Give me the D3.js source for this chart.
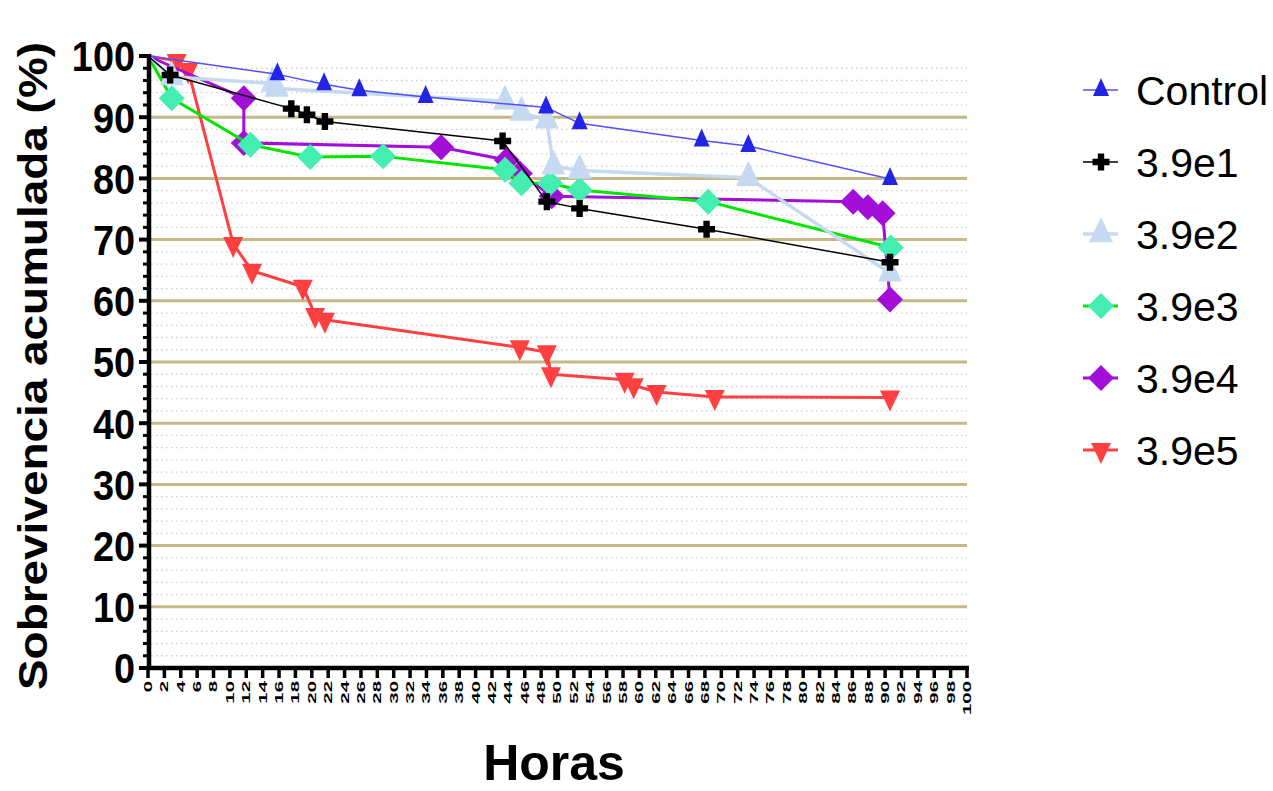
<!DOCTYPE html>
<html><head><meta charset="utf-8">
<script src="https://cdn.jsdelivr.net/npm/d3@7"></script>
<style>body{margin:0;background:#fff} svg{display:block} text{font-family:"Liberation Sans",Arial,sans-serif}</style>
</head><body><svg id="c" width="1273" height="791"></svg>
<script>
// ---- data ----
const seriesNames = ["Control","3.9e1","3.9e2","3.9e3","3.9e4","3.9e5"];
const controlHours = [0,15.8,21.5,25.8,33.9,48.6,52.7,67.6,73.3,90.6];
const controlSurv  = [100,97.0,95.4,94.4,93.3,91.6,89.0,86.2,85.3,79.9];
const e1Hours = [0,2.7,17.5,19.4,21.6,43.3,48.7,52.7,68.2,90.6];
const e1Surv  = [100,96.9,91.4,90.4,89.3,86.1,76.2,75.1,71.7,66.3];
const e2Hours = [0,2.9,15.2,15.7,43.6,45.6,48.7,49.5,52.7,73.3,90.6];
const e2Surv  = [100,96.6,95.5,94.7,92.6,90.8,89.5,82.0,81.3,80.1,64.5];
const e3Hours = [0,2.9,12.5,19.8,28.7,43.6,45.6,49.1,52.7,68.4,90.7];
const e3Surv  = [100,93.1,85.5,83.5,83.6,81.4,79.2,79.2,78.1,76.2,68.7];
const e4Hours = [0,11.7,11.7,35.8,43.8,45.4,49.3,86.1,87.9,89.7,90.6];
const e4Surv  = [100,93.1,85.8,85.1,83.0,80.8,77.1,76.2,75.3,74.3,60.2];
const e5Hours = [0,3.5,4.9,10.4,12.7,18.9,20.4,21.6,45.4,48.7,49.2,58.2,59.3,62.1,69.2,90.6];
const e5Surv  = [100,99.2,97.7,69.3,64.9,62.3,57.7,56.9,52.4,51.6,48.0,47.1,46.2,45.1,44.3,44.2];
const xTickValues = d3.range(0, 101, 2);
const yTickValues = d3.range(0, 101, 10);
const xTitle = "Horas";
const yTitle = "Sobrevivencia acumulada (%)";

// ---- styles ----
const styles = [
  {line:"#5050ff", fill:"#2424e6", lw:1.5, shape:"up",   w:16, h:18},
  {line:"#000000", fill:"#000000", lw:1.5, shape:"plus", w:17, h:17},
  {line:"#c5d9f1", fill:"#c5d9f1", lw:3.5, shape:"up",   w:24, h:25},
  {line:"#00e600", fill:"#44eeb0", lw:3,   shape:"diamond", w:26, h:26},
  {line:"#a30ed9", fill:"#a30ed9", lw:3,   shape:"diamond", w:26, h:26},
  {line:"#ff4040", fill:"#ff4040", lw:3,   shape:"down", w:20, h:21}
];
const hoursArr = [controlHours,e1Hours,e2Hours,e3Hours,e4Hours,e5Hours];
const survArr  = [controlSurv,e1Surv,e2Surv,e3Surv,e4Surv,e5Surv];

function shapePath(s){
  const w=s.w,h=s.h;
  if(s.shape==="up") return `M0,${-2*h/3}L${w/2},${h/3}L${-w/2},${h/3}Z`;
  if(s.shape==="down") return `M0,${2*h/3}L${w/2},${-h/3}L${-w/2},${-h/3}Z`;
  if(s.shape==="diamond") return `M0,${-h/2}L${w/2},0L0,${h/2}L${-w/2},0Z`;
  const a=w/2,t=3.2;
  return `M${-t},${-a}H${t}V${-t}H${a}V${t}H${t}V${a}H${-t}V${t}H${-a}V${-t}H${-t}Z`;
}

const svg = d3.select("#c");
const x = d3.scaleLinear([0,100],[148,967]);
const y = d3.scaleLinear([0,100],[668,56]);

// grid
const g = svg.append("g");
const minor = d3.range(2,100,2).filter(v=>v%10!==0);
g.selectAll("line.minor").data(minor).join("line")
  .attr("x1",x(0)+3).attr("x2",x(100)).attr("y1",d=>y(d)).attr("y2",d=>y(d))
  .attr("stroke","#cfcfcf").attr("stroke-width",1.3).attr("stroke-dasharray","1.5,3.5");
g.selectAll("line.major").data(d3.range(10,100,10)).join("line")
  .attr("x1",x(0)).attr("x2",x(100)).attr("y1",d=>y(d)).attr("y2",d=>y(d))
  .attr("stroke","#c6b988").attr("stroke-width",3);

// series (reverse order so Control on top)
const lineGen = d3.line().x(d=>x(d[0])).y(d=>y(d[1]));
for(let i=5;i>=0;i--){
  const pts = hoursArr[i].map((h,k)=>[h,survArr[i][k]]);
  const s = styles[i];
  const sg = svg.append("g");
  sg.append("path").datum(pts).attr("d",lineGen).attr("fill","none")
    .attr("stroke",s.line).attr("stroke-width",s.lw).attr("stroke-linejoin","round");
  sg.selectAll("path.m").data(pts.slice(1)).join("path").attr("class","m")
    .attr("transform",d=>`translate(${x(d[0])},${y(d[1])})`)
    .attr("d",shapePath(s)).attr("fill",s.fill);
}

// axes
const ax = svg.append("g");
ax.append("line").attr("x1",x(0)).attr("x2",x(100)+2).attr("y1",y(0)).attr("y2",y(0))
  .attr("stroke","#000").attr("stroke-width",4.5);
ax.append("line").attr("x1",x(0)+1).attr("x2",x(0)+1).attr("y1",y(0)+2).attr("y2",y(100)-2)
  .attr("stroke","#000").attr("stroke-width",4.5);
// y ticks
ax.selectAll("line.yt").data(d3.range(0,101,2)).join("line")
  .attr("x1",d=>d%10===0?139:143).attr("x2",x(0)).attr("y1",d=>y(d)).attr("y2",d=>y(d))
  .attr("stroke","#000").attr("stroke-width",d=>d%10===0?4:3);
ax.selectAll("text.yl").data(yTickValues).join("text")
  .attr("transform",d=>`translate(135,${y(d)}) scale(0.88,1)`)
  .attr("text-anchor","end").attr("dy","0.36em")
  .attr("font-size",43).attr("font-weight","bold").text(d=>d);
// x ticks
ax.selectAll("line.xt").data(xTickValues).join("line")
  .attr("x1",d=>x(d)).attr("x2",d=>x(d)).attr("y1",y(0)).attr("y2",y(0)+10)
  .attr("stroke","#000").attr("stroke-width",3.5);
ax.selectAll("text.xl").data(xTickValues).join("text")
  .attr("transform",d=>`translate(${x(d)},681) rotate(-90) scale(1.85,1)`)
  .attr("text-anchor","end").attr("dy","0.36em")
  .attr("font-size",11).attr("font-weight","bold").text(d=>d);

// titles
svg.append("text").attr("transform","translate(554,780)").attr("text-anchor","middle")
  .attr("font-size",50).attr("font-weight","bold").text(xTitle);
svg.append("text").attr("transform","translate(47,366) rotate(-90) scale(1.12,1)").attr("text-anchor","middle")
  .attr("font-size",41).attr("font-weight","bold").text(yTitle);

// legend
const lg = svg.append("g");
seriesNames.forEach((name,i)=>{
  const s = styles[i];
  const by = 105 + i*72, cy = by - 15;
  lg.append("line").attr("x1",1083).attr("x2",1118).attr("y1",cy).attr("y2",cy)
    .attr("stroke",s.line).attr("stroke-width",s.lw);
  lg.append("path").attr("transform",`translate(1101,${cy})`).attr("d",shapePath(s)).attr("fill",s.fill);
  lg.append("text").attr("x",1136).attr("y",by).attr("font-size",41).text(name);
});
</script></body></html>
